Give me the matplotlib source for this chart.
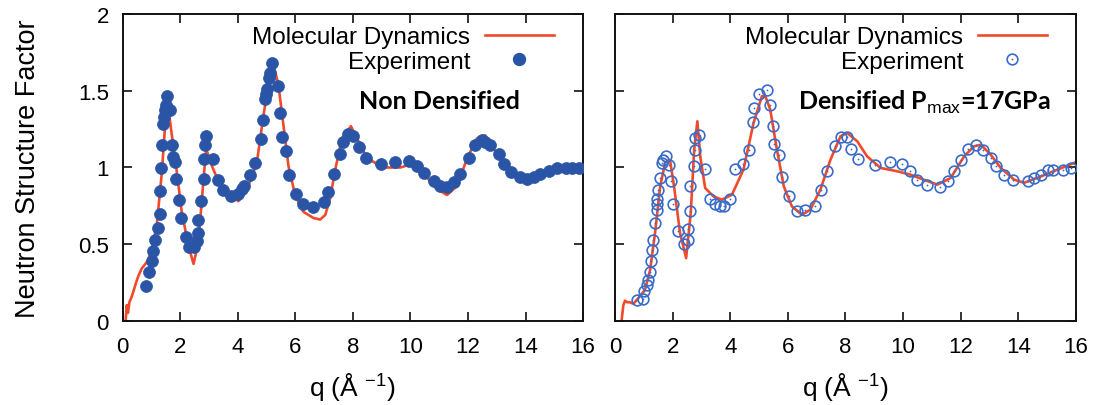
import matplotlib
matplotlib.use("Agg")
import matplotlib.pyplot as plt
from matplotlib.lines import Line2D

plt.rcParams['font.family'] = ['Liberation Sans', 'DejaVu Sans']
plt.rcParams['mathtext.fontset'] = 'custom'
plt.rcParams['mathtext.rm'] = 'Liberation Sans'
plt.rcParams['mathtext.it'] = 'Liberation Sans:italic'
plt.rcParams['mathtext.bf'] = 'Liberation Sans:bold'

# ---------------- data ----------------
left_exp_q = [0.80, 0.92, 1.01, 1.04, 1.12, 1.21, 1.28, 1.28, 1.34, 1.37,
              1.41, 1.44, 1.47, 1.50, 1.53, 1.65, 1.70, 1.74, 1.82, 1.86,
              1.95, 2.03, 2.20, 2.32, 2.48, 2.57, 2.63, 2.63, 2.71, 2.83,
              2.83, 2.86, 2.88, 3.15, 3.30, 3.50, 3.76, 4.00, 4.14, 4.22,
              4.43, 4.61, 4.80, 4.86, 4.95, 4.97, 5.01, 5.07, 5.12, 5.18,
              5.41, 5.47, 5.55, 5.67, 5.79, 6.02, 6.28, 6.63, 6.98, 7.15,
              7.36, 7.54, 7.64, 7.83, 8.02, 8.20, 8.45, 8.97, 9.48, 9.96,
              10.23, 10.48, 10.81, 11.04, 11.27, 11.50, 11.73, 12.02, 12.25, 12.49,
              12.60, 12.78, 13.07, 13.26, 13.50, 13.82, 14.06, 14.29, 14.52, 14.81,
              15.10, 15.39, 15.62, 15.85]
left_exp_s = [0.224, 0.316, 0.388, 0.453, 0.529, 0.603, 0.697, 0.845, 0.996, 1.150,
              1.285, 1.329, 1.373, 1.41, 1.464, 1.373, 1.15, 1.068, 1.039, 0.926,
              0.789, 0.671, 0.545, 0.479, 0.479, 0.518, 0.573, 0.660, 0.784, 0.926,
              1.057, 1.144, 1.203, 1.057, 0.919, 0.85, 0.813, 0.828, 0.861, 0.878,
              0.948, 1.03, 1.183, 1.307, 1.449, 1.481, 1.514, 1.584, 1.619, 1.684,
              1.532, 1.355, 1.198, 1.107, 0.948, 0.828, 0.763, 0.741, 0.773, 0.839,
              0.959, 1.087, 1.166, 1.22, 1.205, 1.133, 1.061, 1.02, 1.039, 1.041,
              1.007, 0.965, 0.915, 0.878, 0.871, 0.908, 0.959, 1.061, 1.144, 1.181,
              1.166, 1.144, 1.089, 1.024, 0.969, 0.937, 0.926, 0.937, 0.959, 0.98,
              0.996, 0.998, 0.996, 0.998]

left_md_q = [0.10, 0.14, 0.18, 0.23, 0.30, 0.37, 0.45, 0.54, 0.66, 0.83,
             1.00, 1.18, 1.36, 1.47, 1.59, 1.70, 1.82, 2.05, 2.28, 2.46,
             2.63, 2.81, 2.90, 3.10, 3.39, 3.73, 4.02, 4.31, 4.66, 4.89,
             5.12, 5.24, 5.41, 5.59, 5.76, 5.99, 6.28, 6.63, 6.86, 7.04,
             7.21, 7.39, 7.62, 7.93, 8.20, 8.49, 9.07, 9.65, 10.0, 10.46,
             10.92, 11.27, 11.62, 11.97, 12.31, 12.60, 12.90, 13.24, 13.70, 14.06,
             14.52, 15.22, 15.90]
left_md_s = [0.0, 0.10, 0.05, 0.12, 0.15, 0.19, 0.24, 0.29, 0.34, 0.38,
             0.45, 0.62, 0.97, 1.27, 1.38, 1.22, 1.06, 0.71, 0.49, 0.37,
             0.51, 0.93, 1.12, 1.01, 0.88, 0.82, 0.78, 0.85, 1.03, 1.34,
             1.60, 1.67, 1.54, 1.27, 1.01, 0.82, 0.71, 0.67, 0.66, 0.69,
             0.80, 0.99, 1.19, 1.27, 1.17, 1.06, 1.00, 1.00, 1.02, 0.96,
             0.86, 0.82, 0.88, 1.06, 1.19, 1.21, 1.12, 1.02, 0.94, 0.89,
             0.94, 0.99, 1.00]

right_exp_q = [0.78, 0.96, 1.02, 1.10, 1.16, 1.22, 1.24, 1.28, 1.31, 1.39,
               1.45, 1.47, 1.47, 1.51, 1.57, 1.62, 1.68, 1.77, 1.86, 1.94,
               2.03, 2.20, 2.40, 2.52, 2.55, 2.59, 2.61, 2.75, 2.78, 2.78,
               2.93, 3.13, 3.30, 3.48, 3.63, 3.79, 4.00, 4.17, 4.44, 4.64,
               4.79, 4.83, 4.99, 5.28, 5.37, 5.48, 5.53, 5.68, 5.80, 6.03,
               6.32, 6.61, 6.96, 7.15, 7.36, 7.65, 7.85, 8.06, 8.20, 8.43,
               9.01, 9.55, 9.97, 10.23, 10.49, 10.82, 11.27, 11.56, 11.77, 12.00,
               12.26, 12.52, 12.79, 13.04, 13.24, 13.51, 13.82, 14.32, 14.55, 14.79,
               15.04, 15.19, 15.54, 15.83]
right_exp_s = [0.135, 0.14, 0.196, 0.233, 0.266, 0.314, 0.386, 0.458, 0.528, 0.637,
               0.724, 0.763, 0.794, 0.851, 0.931, 1.03, 1.05, 1.073, 1.018, 0.909,
               0.763, 0.582, 0.502, 0.528, 0.598, 0.713, 0.877, 1.008, 1.117, 1.193,
               1.215, 0.99, 0.794, 0.763, 0.746, 0.746, 0.794, 0.99, 1.023, 1.117,
               1.296, 1.389, 1.481, 1.509, 1.405, 1.269, 1.156, 1.084, 0.936, 0.811,
               0.713, 0.72, 0.75, 0.851, 0.979, 1.138, 1.2, 1.197, 1.123, 1.056,
               1.014, 1.034, 1.023, 0.975, 0.92, 0.888, 0.872, 0.914, 0.975, 1.051,
               1.123, 1.149, 1.117, 1.062, 1.008, 0.949, 0.92, 0.91, 0.931, 0.953,
               0.981, 0.986, 0.986, 0.997]

right_md_q = [0.23, 0.29, 0.35, 0.41, 0.50, 0.64, 0.81, 1.04, 1.22, 1.39,
              1.57, 1.74, 1.91, 2.05, 2.26, 2.47, 2.63, 2.75, 2.86, 2.96,
              3.13, 3.42, 3.71, 4.06, 4.46, 4.81, 5.10, 5.22, 5.39, 5.62,
              5.86, 6.14, 6.49, 6.78, 7.13, 7.48, 7.83, 8.06, 8.41, 8.75,
              9.22, 9.80, 10.26, 10.72, 11.19, 11.65, 12.12, 12.46, 12.70, 13.04,
              13.39, 13.86, 14.20, 14.79, 15.36, 15.94]
right_md_s = [0.0, 0.10, 0.13, 0.12, 0.12, 0.11, 0.146, 0.20, 0.33, 0.57,
              0.877, 1.03, 1.05, 0.877, 0.571, 0.408, 0.702, 1.117, 1.302, 1.073,
              0.866, 0.811, 0.79, 0.822, 0.986, 1.291, 1.466, 1.466, 1.378, 1.117,
              0.877, 0.746, 0.691, 0.724, 0.855, 1.051, 1.204, 1.226, 1.171, 1.073,
              0.997, 0.975, 0.953, 0.92, 0.888, 0.931, 1.073, 1.138, 1.149, 1.084,
              0.997, 0.92, 0.9, 0.942, 0.986, 1.03]

x_ticks = [0, 2, 4, 6, 8, 10, 12, 14, 16]
y_ticks = [0, 0.5, 1, 1.5, 2]
y_tick_labels = ['0', '0.5', '1', '1.5', '2']
md_label = 'Molecular Dynamics'
exp_label = 'Experiment'
left_title = 'Non Densified'
right_title = r'Densified P$_{\mathrm{max}}$=17GPa'

# ---------------- style ----------------
RED = '#f04a2c'
BLUE = '#2a55a6'
BLUE_OPEN = '#3a6cc8'

fig = plt.figure(figsize=(10.96, 4.06), dpi=100)
ax1 = fig.add_axes([0.112, 0.208, 0.420, 0.754])
ax2 = fig.add_axes([0.5611, 0.208, 0.4206, 0.754])

for ax in (ax1, ax2):
    ax.set_xlim(0, 16)
    ax.set_ylim(0, 2)
    ax.set_xticks(x_ticks)
    ax.set_xticklabels([str(t) for t in x_ticks])
    ax.set_yticks(y_ticks)
    ax.tick_params(direction='in', length=6.5, width=1.2, top=True, right=True,
                   labelsize=16, color='#111111')
    ax.tick_params(axis='x', pad=11)
    ax.tick_params(axis='y', pad=10)
    for sp in ax.spines.values():
        sp.set_linewidth(1.4)
        sp.set_color('#111111')
    ax.set_xlabel('q (Å $^{-1}$)', fontsize=19)
    ax.xaxis.set_label_coords(0.5, -0.16)

ax1.set_yticklabels(y_tick_labels)
ax2.set_yticklabels([])
ax1.set_ylabel('Neutron Structure Factor', fontsize=19.5)
ax1.yaxis.set_label_coords(-0.178, 0.5)

# Left: non densified
ax1.plot(left_md_q, left_md_s, color=RED, lw=1.9, zorder=2)
ax1.plot(left_exp_q, left_exp_s, linestyle='none', marker='o', ms=8.6,
         mfc=BLUE, mec=BLUE, mew=0.5, zorder=3)

# Right: densified
ax2.plot(right_md_q, right_md_s, color=RED, lw=1.9, zorder=2)
ax2.plot(right_exp_q, right_exp_s, linestyle='none', marker='o', ms=7.7,
         mfc='none', mec=BLUE_OPEN, mew=1.2, zorder=3)
ax2.plot(right_exp_q, right_exp_s, linestyle='none', marker='o', ms=1.3,
         mfc=BLUE_OPEN, mec=BLUE_OPEN, mew=0, zorder=3)

# Legends (text right-aligned next to the key, gnuplot style)
def add_legends(ax, exp_handle):
    md_handle = Line2D([], [], color=RED, lw=1.9)
    common = dict(frameon=False, markerfirst=False, fontsize=17.5, handlelength=2.85,
                  handletextpad=0.6, borderpad=0, borderaxespad=0, loc='center right')
    l1 = ax.legend([md_handle], [md_label], bbox_to_anchor=(0.937, 0.925), **common)
    ax.add_artist(l1)
    ax.legend([exp_handle], [exp_label], bbox_to_anchor=(0.937, 0.845), **common)

add_legends(ax1, Line2D([], [], linestyle='none', marker='o', ms=8.6, mfc=BLUE, mec=BLUE))
exp_open = (Line2D([], [], linestyle='none', marker='o', ms=7.7, mfc='none', mec=BLUE_OPEN, mew=1.2),
            Line2D([], [], linestyle='none', marker='o', ms=1.3, mfc=BLUE_OPEN, mec=BLUE_OPEN, mew=0))
add_legends(ax2, exp_open)

ax1.text(0.687, 0.72, left_title, transform=ax1.transAxes, ha='center', va='center',
         fontsize=18, fontweight='bold', family=['Lato', 'DejaVu Sans'])
ax2.text(0.672, 0.717, right_title, transform=ax2.transAxes, ha='center', va='center',
         fontsize=18, fontweight='bold', family=['Lato', 'DejaVu Sans'])

fig.savefig('out.png', dpi=100)
